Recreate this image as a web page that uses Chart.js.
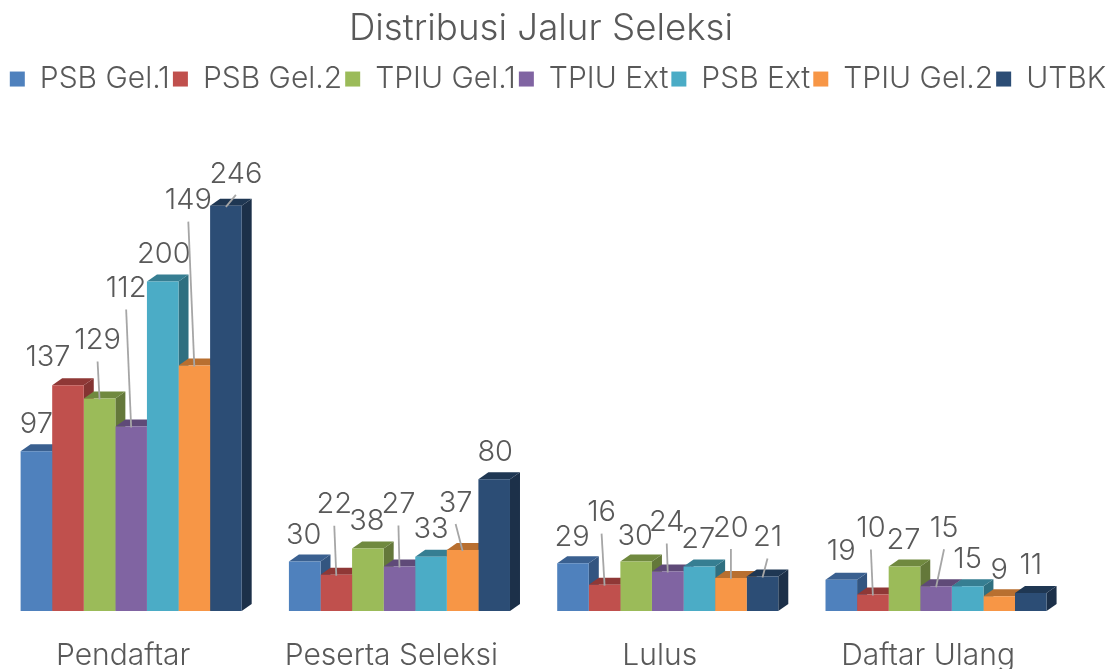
<!DOCTYPE html>
<html>
<head>
<meta charset="utf-8">
<title>Distribusi Jalur Seleksi</title>
<script src="https://cdn.jsdelivr.net/npm/chart.js@4"></script>
<style>
  html, body { margin: 0; padding: 0; background: #fff; overflow: hidden; }
  /* the plot starts a little left of the page, same as the original */
  #wrap { position: absolute; left: -3px; top: 0; width: 1116px; height: 669px; }
</style>
</head>
<body>
<div id="wrap"><canvas id="grafico"></canvas></div>
<script>
// =========================================================
// 1. DATA
// =========================================================
const categories = ['Pendaftar', 'Peserta Seleksi', 'Lulus', 'Daftar Ulang'];
const seriesNames = ['PSB Gel.1', 'PSB Gel.2', 'TPIU Gel.1', 'TPIU Ext', 'PSB Ext', 'TPIU Gel.2', 'UTBK'];

const psbGel1 = [97, 30, 29, 19];
const psbGel2 = [137, 22, 16, 10];
const tpiuGel1 = [129, 38, 30, 27];
const tpiuExt = [112, 27, 24, 15];
const psbExt = [200, 33, 27, 15];
const tpiuGel2 = [149, 37, 20, 9];
const utbk = [246, 80, 21, 11];
const seriesValues = [psbGel1, psbGel2, tpiuGel1, tpiuExt, psbExt, tpiuGel2, utbk];

// =========================================================
// 2. STYLE
// =========================================================
const frontColors = ['#4f81bd', '#c0504d', '#9bbb59', '#8064a2', '#4bacc6', '#f79646', '#2c4d75'];
const topColors = ['#3a6090', '#8f3836', '#70893f', '#5f4a78', '#367e92', '#b86f30', '#1f3753'];
const sideColors = ['#335580', '#843432', '#64783a', '#54416a', '#2f6f80', '#a66329', '#1c3049'];

const depthX = 10; // how far the box goes to the right
const depthY = 7;  // and up

const fontFamily = "Inter, sans-serif";
const textColor = '#595959';

// label offset from the top of each bar, per series then per category
const labelOffsets = [
  [[0, -27], [-1, -26], [-1, -26], [0, -28]],
  [[-20, -28], [-2, -70], [-3, -72], [-2, -66]],
  [[-2, -58], [-1, -27], [-1, -25], [-1, -26]],
  [[-5, -138], [-1, -62], [-1, -49], [8, -58]],
  [[1, -27], [0, -27], [-1, -27], [0, -27]],
  [[-6, -165], [-7, -47], [0, -50], [0, -26]],
  [[10, -32], [1, -27], [5, -39], [0, -28]]
];

// =========================================================
// 3. PLUGINS: 3D BOX, DATA LABELS, TITLE/LEGEND SHIFT
// =========================================================
const caixa3d = {
  id: 'caixa3d',
  beforeDatasetsDraw(chart) {
    const ctx = chart.ctx;
    categories.forEach((_, c) => {
      seriesValues.forEach((_, s) => {
        const bar = chart.getDatasetMeta(s).data[c];
        const left = bar.x - bar.width / 2;
        const right = bar.x + bar.width / 2;
        // side
        ctx.fillStyle = sideColors[s];
        ctx.beginPath();
        ctx.moveTo(right, bar.y);
        ctx.lineTo(right + depthX, bar.y - depthY);
        ctx.lineTo(right + depthX, bar.base - depthY);
        ctx.lineTo(right, bar.base);
        ctx.closePath();
        ctx.fill();
        // top
        ctx.fillStyle = topColors[s];
        ctx.beginPath();
        ctx.moveTo(left, bar.y);
        ctx.lineTo(left + depthX, bar.y - depthY);
        ctx.lineTo(right + depthX, bar.y - depthY);
        ctx.lineTo(right, bar.y);
        ctx.closePath();
        ctx.fill();
      });
    });
  }
};

const rotulos = {
  id: 'rotulos',
  afterDatasetsDraw(chart) {
    const ctx = chart.ctx;
    ctx.save();
    ctx.font = '300 29px ' + fontFamily;
    ctx.textAlign = 'center';
    ctx.textBaseline = 'middle';
    seriesValues.forEach((values, s) => {
      values.forEach((v, c) => {
        const bar = chart.getDatasetMeta(s).data[c];
        const lx = bar.x + labelOffsets[s][c][0];
        const ly = bar.y + labelOffsets[s][c][1];
        // leader line only when the label was pushed away from its bar
        if (labelOffsets[s][c][1] <= -30) {
          ctx.strokeStyle = '#a6a6a6';
          ctx.lineWidth = 1.8;
          ctx.beginPath();
          ctx.moveTo(lx, ly + 21);
          ctx.lineTo(bar.x, bar.y + 1);
          ctx.stroke();
        }
        ctx.fillStyle = textColor;
        ctx.fillText(String(v), lx, ly);
      });
    });
    ctx.restore();
  }
};

// title and legend are not centred on the page in the original
const ajusteTopo = {
  id: 'ajusteTopo',
  afterLayout(chart) {
    chart.titleBlock.right -= 28;
    chart.legend.left += 3;
    chart.legend.right += 3;
  }
};

// =========================================================
// 4. CHART
// =========================================================
new Chart(document.getElementById('grafico'), {
  type: 'bar',
  data: {
    labels: categories,
    datasets: seriesNames.map((name, s) => ({
      label: name,
      data: seriesValues[s],
      backgroundColor: frontColors[s],
      borderWidth: 0,
      categoryPercentage: 0.824,
      barPercentage: 1
    }))
  },
  options: {
    responsive: true,
    maintainAspectRatio: false,
    animation: false,
    plugins: {
      title: {
        display: true,
        text: 'Distribusi Jalur Seleksi',
        color: textColor,
        font: { family: fontFamily, size: 36.7, weight: '300' },
        padding: { top: 7, bottom: 10 }
      },
      legend: {
        display: true,
        align: 'center',
        labels: {
          color: textColor,
          font: { family: fontFamily, size: 30, weight: '300' },
          boxWidth: 15,
          boxHeight: 15,
          padding: 3
        }
      },
      tooltip: { enabled: false }
    },
    scales: {
      x: {
        grid: { display: false },
        border: { display: false },
        afterFit(scale) { scale.height = 58; },
        ticks: {
          color: textColor,
          font: { family: fontFamily, size: 30, weight: '300' },
          labelOffset: -8,
          padding: 19,
          maxRotation: 0
        }
      },
      y: {
        position: 'right',
        min: 0,
        max: 307.8,
        grid: { display: false },
        border: { display: false },
        ticks: { display: false },
        afterFit(scale) { scale.width = 42.8; }
      }
    }
  },
  plugins: [caixa3d, rotulos, ajusteTopo]
});
</script>
</body>
</html>
